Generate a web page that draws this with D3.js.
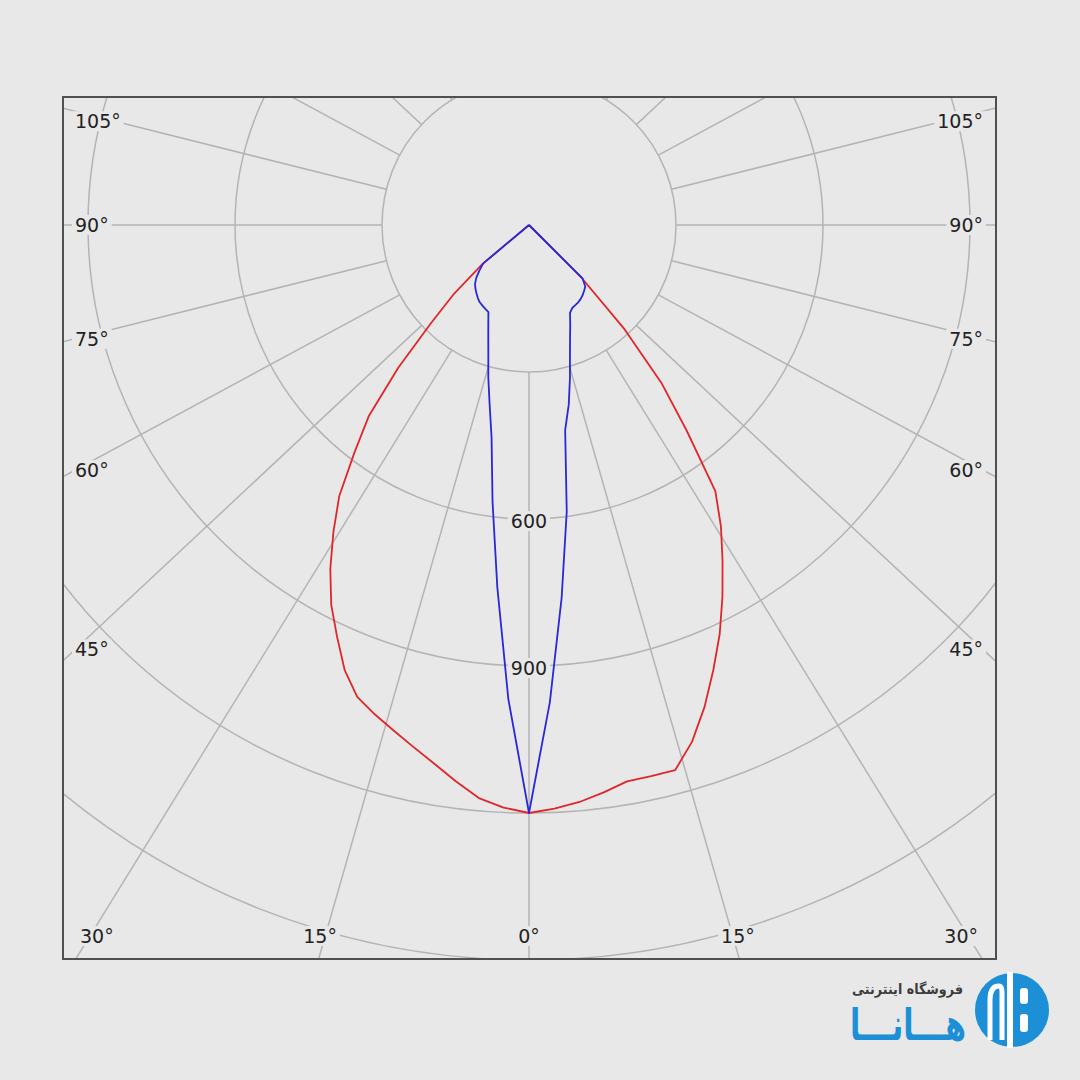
<!DOCTYPE html>
<html><head><meta charset="utf-8">
<script src="https://cdn.jsdelivr.net/npm/d3@7"></script>
<style>html,body{margin:0;padding:0;background:#e8e8e8;}svg{display:block}</style>
</head><body>
<svg id="chart" width="1080" height="1080"></svg>
<script>
// ---- data ----
const gammaAngles = [0,2.5,5,7.5,10,12.5,15,17.5,20,22.5,25,27.5,30,32.5,35,37.5,40,42.5,45,47.5,50,52.5,55,60,75,90,105,120,135,150,165,180];
// red curve, left half (C180) and right half (C0), cd
const redLeft  = [1200,1190,1174,1145,1116,1091,1068,1047,1025,983,927,874,811,743,675,585,508,395,282,207,125,0,0,0,0,0,0,0,0,0,0,0];
const redRight = [1200,1192,1182,1168,1153,1152,1152,1106,1047,983,921,855,790,729,663,528,420,289,148,0,0,0,0,0,0,0,0,0,0,0,0,0];
// blue curve, left half (C270) and right half (C90), cd
const blueLeft  = [1200,968,742,570,440,372,321,276,243,217,196,193,190,187,182,176,170,163,152,137,122,0,0,0,0,0,0,0,0,0,0,0];
const blueRight = [1200,975,764,590,425,375,323,278,245,220,198,191,189,187,184,180,175,170,155,0,0,0,0,0,0,0,0,0,0,0,0,0];
const ringValues = [300,600,900,1200,1500,1800];
const ringLabelValues = [600,900];
const spokeAngles = [0,15,30,45,60,75,90,105,120,135,150,165,180];
const angleLabels = [0,15,30,45,60,75,90,105];

// ---- layout ----
const W = 1080, H = 1080;
const cx = 529, cy = 225;
const frame = {x0:63, y0:97, x1:996, y1:959};
const rScale = d3.scaleLinear().domain([0,1500]).range([0,735]);
const SQUASH = 0.935;          // spokes in the reference are slightly flattened
const BG = "#e8e8e8", GRID = "#b4b4b4";
const FONT = "'DejaVu Sans', Verdana, sans-serif";

const svg = d3.select("#chart");
svg.append("rect").attr("width",W).attr("height",H).attr("fill",BG);

const defs = svg.append("defs");
defs.append("clipPath").attr("id","plotClip")
  .append("rect").attr("x",frame.x0).attr("y",frame.y0)
  .attr("width",frame.x1-frame.x0).attr("height",frame.y1-frame.y0);

const plot = svg.append("g").attr("clip-path","url(#plotClip)");
const gridG = plot.append("g");

// rings
gridG.selectAll("circle.ring").data(ringValues).join("circle")
  .attr("class","ring").attr("cx",cx).attr("cy",cy).attr("r",d=>rScale(d))
  .attr("fill","none").attr("stroke",GRID).attr("stroke-width",1.5);

function spokeDir(gDeg, side){
  const g = gDeg*Math.PI/180;
  const dx = side*Math.sin(g), dy = SQUASH*Math.cos(g);
  const n = Math.hypot(dx,dy);
  return [dx/n, dy/n];
}
const spokes = [];
spokeAngles.forEach(a=>{
  spokes.push({a, side:-1});
  if(a!==0 && a!==180) spokes.push({a, side:1});
});
const r0 = rScale(ringValues[0]);
gridG.selectAll("line.spoke").data(spokes).join("line")
  .attr("class","spoke")
  .attr("x1",d=>cx+spokeDir(d.a,d.side)[0]*r0)
  .attr("y1",d=>cy+spokeDir(d.a,d.side)[1]*r0)
  .attr("x2",d=>cx+spokeDir(d.a,d.side)[0]*1300)
  .attr("y2",d=>cy+spokeDir(d.a,d.side)[1]*1300)
  .attr("stroke",GRID).attr("stroke-width",1.5);

// curves
const radial = d3.lineRadial().angle(d=>d.ang).radius(d=>rScale(d.v)).curve(d3.curveLinear);
function halfPts(vals, side){
  return gammaAngles.map((g,i)=>({ang: side<0 ? Math.PI + g*Math.PI/180 : Math.PI - g*Math.PI/180, v: vals[i]}));
}
function fullPts(left,right){ return halfPts(left,-1).slice().reverse().concat(halfPts(right,1).slice(1)); }
const curveG = plot.append("g").attr("transform",`translate(${cx},${cy})`);
curveG.append("path").attr("d",radial(fullPts(redLeft,redRight)))
  .attr("fill","none").attr("stroke","#e0262b").attr("stroke-width",1.8).attr("stroke-linejoin","round");
curveG.append("path").attr("d",radial(fullPts(blueLeft,blueRight)))
  .attr("fill","none").attr("stroke","#2828d6").attr("stroke-width",1.8).attr("stroke-linejoin","round");

// labels with background boxes
const labelG = svg.append("g");
function addLabel(x,y,txt,anchor){
  const g = labelG.append("g");
  const bgR = g.append("rect").attr("fill",BG);
  const t = g.append("text").attr("x",x).attr("y",y).text(txt)
    .attr("text-anchor",anchor).attr("dominant-baseline","central")
    .attr("font-family",FONT).attr("font-size",19).attr("fill","#222");
  const b = t.node().getBBox();
  bgR.attr("x",b.x-3).attr("y",b.y+1).attr("width",b.width+6).attr("height",b.height-2);
}
// angle labels: anchored where each spoke meets an inset box inside the frame
const inset = {xl: 75, xr: 983, yb: 954, labelY: 936};
angleLabels.forEach(a=>{
  [-1,1].forEach(side=>{
    if(a===0 && side===1) return;
    const [dx,dy] = spokeDir(a,side);
    const edgeX = side<0 ? inset.xl : inset.xr;
    const tV = Math.abs(dx)>1e-9 ? Math.abs(edgeX-cx)/Math.abs(dx) : Infinity;
    const tB = dy>1e-9 ? (inset.yb-cy)/dy : Infinity;
    if(tV <= tB){
      let y = cy + dy*tV;
      if(dy < -1e-6) y += 10;           // upward spokes: label sits just below
      addLabel(edgeX, y, a+"°", side<0 ? "start" : "end");
    } else {
      const x = cx + dx*tB;
      let anchor = "middle", lx = x;
      if(x - inset.xl < 40){ anchor = "start"; lx = Math.max(x, inset.xl+5); }
      else if(inset.xr - x < 40){ anchor = "end"; lx = Math.min(x, inset.xr-5); }
      addLabel(lx, inset.labelY, a+"°", anchor);
    }
  });
});
// ring value labels
ringLabelValues.forEach(v=> addLabel(cx, cy + rScale(v) + 2, String(v), "middle"));

// frame
svg.append("rect").attr("x",frame.x0).attr("y",frame.y0)
  .attr("width",frame.x1-frame.x0).attr("height",frame.y1-frame.y0)
  .attr("fill","none").attr("stroke","#505050").attr("stroke-width",2);

// watermark logo
const logo = svg.append("g");
const BLUE = "#1c8fd6";
logo.append("text").attr("x",963).attr("y",994).attr("text-anchor","end")
  .attr("font-family",FONT).attr("font-size",14).attr("font-weight",600).attr("fill","#3c3c3c")
  .attr("textLength",111).attr("lengthAdjust","spacingAndGlyphs")
  .text("فروشگاه اینترنتی");
logo.append("text").attr("x",966).attr("y",1040).attr("text-anchor","end")
  .attr("font-family",FONT).attr("font-size",44).attr("font-weight",700).attr("fill",BLUE)
  .attr("textLength",116).attr("lengthAdjust","spacingAndGlyphs")
  .text("هـــانـــا");
logo.append("circle").attr("cx",1012).attr("cy",1010).attr("r",37).attr("fill",BLUE);
logo.append("rect").attr("x",1007).attr("y",972).attr("width",6).attr("height",76).attr("fill","#ffffff");
logo.append("path").attr("d","M990 1040 L990 1000 Q990 986 999 986 Q1002 986 1002 992 L1002 1040")
  .attr("fill","none").attr("stroke","#ffffff").attr("stroke-width",5);
logo.append("rect").attr("x",1020).attr("y",988).attr("width",8).attr("height",16).attr("rx",3).attr("fill","#ffffff");
logo.append("rect").attr("x",1020).attr("y",1014).attr("width",8).attr("height",18).attr("rx",3).attr("fill","#ffffff");
</script>
</body></html>
